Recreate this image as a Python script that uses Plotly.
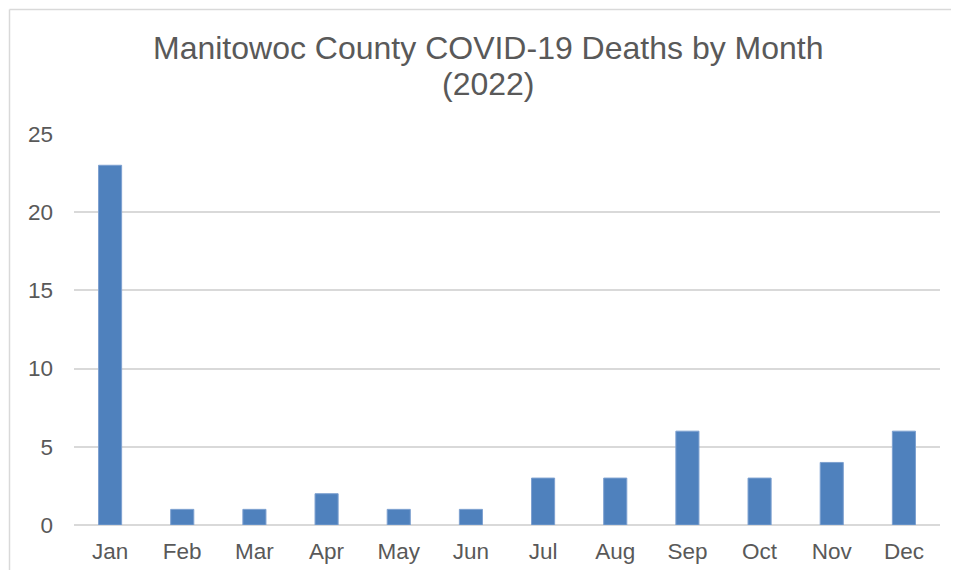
import plotly.graph_objects as go

months = ["Jan", "Feb", "Mar", "Apr", "May", "Jun", "Jul", "Aug", "Sep", "Oct", "Nov", "Dec"]
deaths = [23, 1, 1, 2, 1, 1, 3, 3, 6, 3, 4, 6]
title_lines = ["Manitowoc County COVID-19 Deaths by Month", "(2022)"]

# page has an 8px body margin; figure sized to fit the window without scrolling,
# and so the plot area lands where the reference has it
OFF = 8
W, H = 943, 562
px_l, px_r, px_t, px_b = 74, 940, 134, 525   # plot-area edges in window pixels
ml, mt = px_l - OFF, px_t - OFF
mr, mb = OFF + W - px_r, OFF + H - px_b
pw, ph = px_r - px_l, px_b - px_t


def xp(px):
    return (px - px_l) / pw


def yp(py):
    return (px_b - py) / ph


fig = go.Figure(go.Bar(x=months, y=deaths,
                       marker=dict(color="#4F81BD", line=dict(color="#7DA0D0", width=1)),
                       width=0.32))

fig.update_layout(
    width=W, height=H,
    margin=dict(l=ml, r=mr, t=mt, b=mb),
    paper_bgcolor="white", plot_bgcolor="white",
    font=dict(family="Liberation Sans, Arial, sans-serif", color="#595959", size=22),
    showlegend=False,
    bargap=0.68,
)
for line, py in zip(title_lines, [48, 84]):
    fig.add_annotation(text=line, xref="paper", yref="paper", x=xp(488.5), y=yp(py),
                       xanchor="center", yanchor="middle", showarrow=False,
                       font=dict(size=32, color="#595959"))

fig.update_xaxes(showgrid=False, showline=False, ticks="", ticklabelstandoff=10, automargin=False,
                 tickfont=dict(size=22.5, color="#595959"))
fig.update_yaxes(range=[0, 25], dtick=5, showgrid=True, gridcolor="#D9D9D9", gridwidth=1.5,
                 zeroline=True, zerolinecolor="#D9D9D9", zerolinewidth=1.5, automargin=False,
                 ticks="", ticklabelstandoff=20, tickfont=dict(size=22.5, color="#595959"))

# chart-area border (Excel style): only the left and top edges are inside the window
border = dict(color="#D9D9D9", width=1.5)
fig.add_shape(type="line", xref="paper", yref="paper", x0=xp(9.5), x1=xp(9.5),
              y0=yp(OFF + H), y1=yp(9.5), line=border, layer="below")
fig.add_shape(type="line", xref="paper", yref="paper", x0=xp(9.5), x1=xp(OFF + W),
              y0=yp(9.5), y1=yp(9.5), line=border, layer="below")

fig.write_html("out.html")
